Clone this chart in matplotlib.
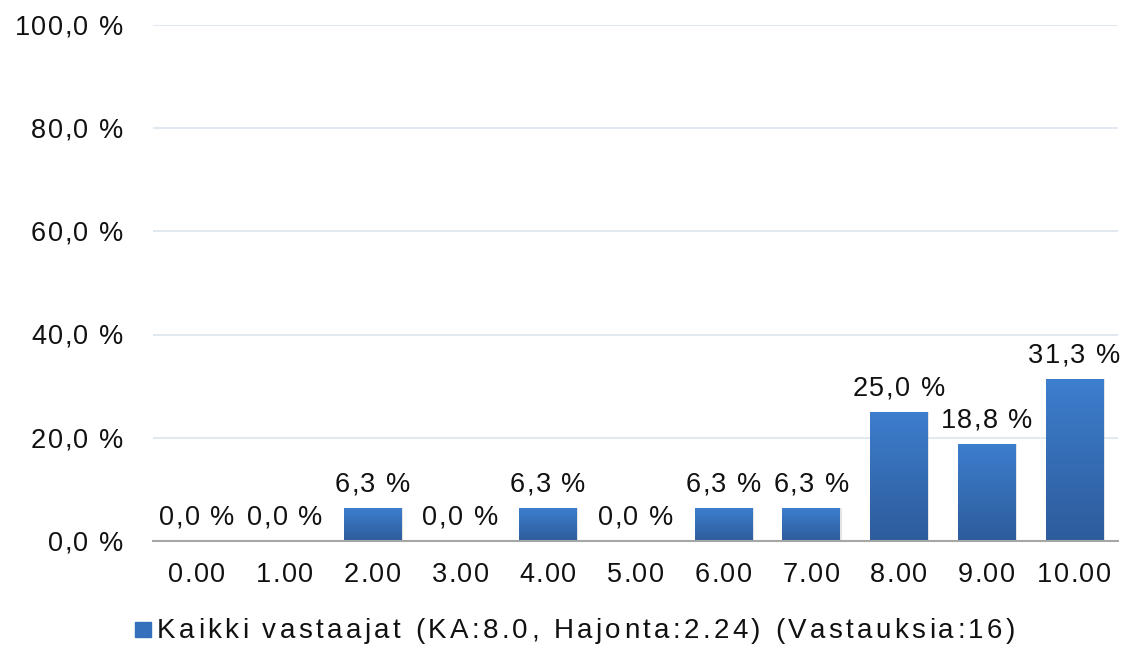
import numpy as np
import matplotlib
matplotlib.use("Agg")
import matplotlib.pyplot as plt
from matplotlib.patches import Rectangle
from matplotlib.colors import LinearSegmentedColormap
from matplotlib.font_manager import FontProperties, findfont
from matplotlib.ft2font import FT2Font
from matplotlib.transforms import offset_copy

categories = ["0.00", "1.00", "2.00", "3.00", "4.00", "5.00",
              "6.00", "7.00", "8.00", "9.00", "10.00"]
values = [0.0, 0.0, 6.3, 0.0, 6.3, 0.0, 6.3, 6.3, 25.0, 18.8, 31.3]
yticks = [0, 20, 40, 60, 80, 100]
legend_label = "Kaikki vastaajat (KA:8.0, Hajonta:2.24) (Vastauksia:16)"

DPI = 100
FONT = "Liberation Sans"
SIZE = 19.5
LEG_SIZE = 20
TEXT_COLOR = "#111111"
plt.rcParams["font.family"] = [FONT, "DejaVu Sans"]

_ft = FT2Font(findfont(FontProperties(family=FONT)))
try:
    _NOHINT = matplotlib.ft2font.LoadFlags.NO_HINTING
except AttributeError:
    _NOHINT = matplotlib.ft2font.LOAD_NO_HINTING


def advance(ch, size):
    _ft.set_size(size, DPI)
    return _ft.load_char(ord(ch), flags=_NOHINT).linearHoriAdvance / 65536.0


def tracked_text(x, y, s, transform, ha="center", dx=0.0, dy=0.0,
                 track=1.5, size=SIZE):
    """Draw s with extra letter spacing (px), shifted by (dx, dy) pixels."""
    advs = [advance(c, size) for c in s]
    total = sum(advs) + track * (len(s) - 1)
    pos = dx + {"left": 0.0, "center": -total / 2, "right": -total}[ha]
    for c, a in zip(s, advs):
        if c != " ":
            tr = offset_copy(transform, fig=fig, x=pos, y=dy, units="dots")
            fig.text(x, y, c, transform=tr, ha="left", va="baseline",
                     fontsize=size, color=TEXT_COLOR)
        pos += a + track


fig = plt.figure(figsize=(11.26, 6.49), dpi=DPI)
ax = fig.add_axes([0.1359, 0.1664, 0.8570, 0.7951])

x = np.arange(len(categories))
bars = ax.bar(x, values, width=0.65, color="#3a78c6", edgecolor="none", zorder=3)

# vertical gradient fill inside each bar
grad = LinearSegmentedColormap.from_list("bar", ["#2d5c9b", "#3d7ece"])
g = np.linspace(0, 1, 256).reshape(-1, 1)
for b, v in zip(bars, values):
    if v <= 0:
        continue
    x0, w = b.get_x(), b.get_width()
    ax.add_patch(Rectangle((x0 + 0.025, 0), w, v, color="#c8c8c8", alpha=0.5,
                           zorder=2, lw=0))
    im = ax.imshow(g, cmap=grad, origin="lower", aspect="auto",
                   extent=(x0, x0 + w, 0, v), zorder=4)
    im.set_clip_path(b)

ax.set_xlim(-0.5, len(categories) - 0.5)
ax.set_ylim(0, 100)
ax.set_yticks(yticks)
ax.set_xticks(x)
ax.tick_params(axis="both", length=0, labelleft=False, labelbottom=False)
ax.grid(axis="y", color="#dde4ee", lw=1.2, zorder=0)
ax.set_axisbelow(True)
for s in ["top", "right", "left"]:
    ax.spines[s].set_visible(False)
ax.spines["bottom"].set_color("#a6a6a6")
ax.spines["bottom"].set_linewidth(1.5)
ax.spines["bottom"].set_zorder(6)

# value labels above the bars
for xi, v in zip(x, values):
    tracked_text(xi, v, f"{v:.1f} %".replace(".", ","), ax.transData,
                 ha="center", dy=16)

# y tick labels
ytrans = ax.get_yaxis_transform()
for t in yticks:
    tracked_text(0, t, f"{t:.1f} %".replace(".", ","), ytrans,
                 ha="right", dx=-30, dy=-9.7)

# x tick labels
xtrans = ax.get_xaxis_transform()
for xi, c in zip(x, categories):
    tracked_text(xi, 0, c, xtrans, ha="center", dy=-40.5)

# legend below the plot
fig.patches.append(Rectangle((135 / 1126, 1 - 637 / 649), 16 / 1126, 15 / 649,
                             transform=fig.transFigure, color="#3470bb",
                             figure=fig))
natural = sum(advance(c, LEG_SIZE) for c in legend_label)
leg_track = (858 - natural) / (len(legend_label) - 1)
tracked_text(157 / 1126, 1 - 638 / 649, legend_label, fig.transFigure,
             ha="left", track=leg_track, size=LEG_SIZE)

fig.savefig("out.png", dpi=DPI)
